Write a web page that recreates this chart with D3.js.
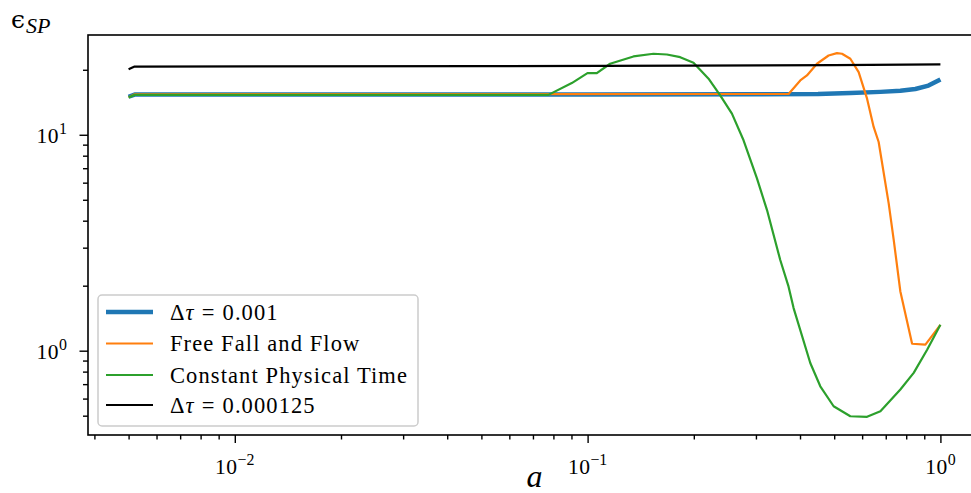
<!DOCTYPE html>
<html>
<head>
<meta charset="utf-8">
<script src="https://cdn.jsdelivr.net/npm/d3@7"></script>
<style>
  html, body { margin: 0; padding: 0; background: #fff; }
  svg { display: block; }
  text { font-family: "Liberation Serif", "DejaVu Serif", serif; fill: #000; }
</style>
</head>
<body>
<svg id="chart" width="971" height="493"></svg>
<script>
// ---- data ----
const seriesNames = ["Δτ = 0.001", "Free Fall and Flow", "Constant Physical Time", "Δτ = 0.000125"];

const aBlue   = [0.005, 0.0052, 0.01, 0.03, 0.1, 0.3, 0.45, 0.556, 0.676, 0.77, 0.849, 0.925, 1.0];
const epsBlue = [15.0, 15.35, 15.35, 15.35, 15.35, 15.4, 15.45, 15.6, 15.8, 16.0, 16.3, 16.9, 18.05];

const aOrange   = [0.005, 0.0052, 0.3712, 0.4007, 0.4185, 0.4468, 0.4820, 0.5091, 0.5261, 0.5555, 0.5865, 0.6196, 0.6468, 0.6683, 0.7135, 0.7373, 0.7700, 0.8313, 0.9067, 1.0];
const epsOrange = [14.9, 15.4, 15.45, 17.85, 18.83, 21.33, 23.29, 23.87, 23.72, 22.49, 19.51, 14.70, 10.87, 9.26, 4.81, 3.26, 1.88, 1.077, 1.066, 1.318];

const aGreen   = [0.005, 0.0052, 0.0774, 0.0902, 0.0999, 0.1062, 0.1158, 0.1349, 0.1537, 0.1678, 0.1830, 0.1996, 0.2202, 0.2376, 0.2565, 0.2767, 0.3020, 0.3225, 0.3516, 0.3712, 0.3836, 0.4277, 0.4566, 0.4981, 0.5555, 0.6196, 0.6760, 0.7700, 0.8400, 0.9170, 1.0];
const epsGreen = [14.9, 15.3, 15.3, 17.35, 19.3, 19.3, 21.33, 23.05, 23.72, 23.54, 22.87, 21.55, 18.18, 15.22, 12.53, 9.43, 6.28, 4.48, 2.63, 1.98, 1.575, 0.877, 0.684, 0.553, 0.497, 0.494, 0.524, 0.661, 0.789, 1.01, 1.318];

const aBlack   = [0.005, 0.0052, 0.05, 0.2, 0.5, 1.0];
const epsBlack = [20.1, 20.7, 20.8, 20.9, 21.0, 21.2];

const xMajorTicks = [0.01, 0.1, 1];
const xMajorExp = ["−2", "−1", "0"];
const yMajorTicks = [1, 10];
const yMajorExp = ["0", "1"];

// ---- layout ----
const svg = d3.select("#chart");
const L = 88, R = 981, T = 35, B = 435;

const allA = [].concat(aBlue, aOrange, aGreen, aBlack);
const allE = [].concat(epsBlue, epsOrange, epsGreen, epsBlack);
function logDomain(vals) {
  const lo = Math.log10(d3.min(vals)), hi = Math.log10(d3.max(vals));
  const m = (hi - lo) * 0.05;
  return [Math.pow(10, lo - m), Math.pow(10, hi + m)];
}
const x = d3.scaleLog().domain(logDomain(allA)).range([L, R]);
const y = d3.scaleLog().domain(logDomain(allE)).range([B, T]);

function minorTicks(scale) {
  const [d0, d1] = scale.domain();
  const out = [];
  for (let e = Math.floor(Math.log10(d0)); e <= Math.ceil(Math.log10(d1)); e++) {
    for (let k = 2; k <= 9; k++) {
      const v = k * Math.pow(10, e);
      if (v >= d0 && v <= d1) out.push(v);
    }
  }
  return out;
}

// clip
svg.append("defs").append("clipPath").attr("id", "clip")
  .append("rect").attr("x", L).attr("y", T).attr("width", R - L).attr("height", B - T);

// lines
const line = d3.line().x(d => x(d[0])).y(d => y(d[1]));
const series = [
  { a: aBlue, e: epsBlue, color: "#1f77b4", w: 4.5 },
  { a: aOrange, e: epsOrange, color: "#ff7f0e", w: 2.2 },
  { a: aGreen, e: epsGreen, color: "#2ca02c", w: 2.2 },
  { a: aBlack, e: epsBlack, color: "#000000", w: 2.2 }
];
const gLines = svg.append("g").attr("clip-path", "url(#clip)");
series.forEach(s => {
  gLines.append("path")
    .datum(s.a.map((v, i) => [v, s.e[i]]))
    .attr("d", line)
    .attr("fill", "none")
    .attr("stroke", s.color)
    .attr("stroke-width", s.w)
    .attr("stroke-linejoin", "round")
    .attr("stroke-linecap", "butt");
});

// axes
const fs = 21.5;
const xMinor = svg.append("g").attr("transform", `translate(0,${B})`)
  .call(d3.axisBottom(x).tickValues(minorTicks(x)).tickSize(4.5).tickFormat(""));
const xMajor = svg.append("g").attr("transform", `translate(0,${B})`)
  .call(d3.axisBottom(x).tickValues(xMajorTicks).tickSize(8).tickPadding(6).tickFormat(""));
const yMinor = svg.append("g").attr("transform", `translate(${L},0)`)
  .call(d3.axisLeft(y).tickValues(minorTicks(y)).tickSize(5).tickFormat(""));
const yMajor = svg.append("g").attr("transform", `translate(${L},0)`)
  .call(d3.axisLeft(y).tickValues(yMajorTicks).tickSize(8.5).tickFormat(""));

[xMinor, xMajor, yMinor, yMajor].forEach(g => {
  g.select(".domain").remove();
  g.selectAll(".tick line").attr("stroke", "#000").attr("stroke-width", 1.4);
});

// tick labels
xMajorTicks.forEach((v, i) => {
  const t = svg.append("text")
    .attr("x", x(v)).attr("y", B + 39)
    .attr("text-anchor", "middle")
    .attr("font-size", fs);
  t.append("tspan").attr("letter-spacing", 0.5).text("10");
  t.append("tspan").attr("font-size", fs * 0.74).attr("dy", -9).text(xMajorExp[i]);
});
yMajorTicks.forEach((v, i) => {
  const t = svg.append("text")
    .attr("x", L - 21).attr("y", y(v) + 8)
    .attr("text-anchor", "end")
    .attr("font-size", fs);
  t.append("tspan").attr("letter-spacing", 0.5).text("10");
  t.append("tspan").attr("font-size", fs * 0.74).attr("dy", -9).text(yMajorExp[i]);
});

// spines
svg.append("rect")
  .attr("x", L).attr("y", T).attr("width", R - L).attr("height", B - T)
  .attr("fill", "none").attr("stroke", "#000").attr("stroke-width", 1.6);

// axis labels
svg.append("text")
  .attr("x", (L + R) / 2).attr("y", 487)
  .attr("text-anchor", "middle")
  .attr("font-size", 32).attr("font-style", "italic")
  .text("a");

const yl = svg.append("text").attr("x", 11).attr("y", 28).attr("font-size", 26);
yl.append("tspan").attr("font-family", "DejaVu Serif").attr("font-size", 25).text("ϵ");
yl.append("tspan").attr("font-style", "italic").attr("font-size", 22).attr("dx", 1).attr("dy", 5).text("SP");

// legend
const lg = svg.append("g");
lg.append("rect")
  .attr("x", 98).attr("y", 295).attr("width", 320).attr("height", 131)
  .attr("rx", 4).attr("ry", 4)
  .attr("fill", "rgba(255,255,255,0.8)")
  .attr("stroke", "#cccccc").attr("stroke-width", 1.5);
const rowY = [312, 343.5, 375, 405];
series.forEach((s, i) => {
  lg.append("line")
    .attr("x1", 106).attr("x2", 153)
    .attr("y1", rowY[i]).attr("y2", rowY[i])
    .attr("stroke", s.color).attr("stroke-width", s.w);
  const t = lg.append("text")
    .attr("x", 170).attr("y", rowY[i] + 7.5)
    .attr("font-size", 22.5)
    .attr("letter-spacing", 1.1);
  const name = seriesNames[i];
  if (name.startsWith("Δτ")) {
    const parts = name.split(" = ");
    t.append("tspan").text("Δ");
    t.append("tspan").attr("font-style", "italic").text("τ");
    t.append("tspan").attr("dx", 7).text("=");
    t.append("tspan").attr("dx", 7).text(parts[1]);
  } else {
    t.text(name);
  }
});
</script>
</body>
</html>
